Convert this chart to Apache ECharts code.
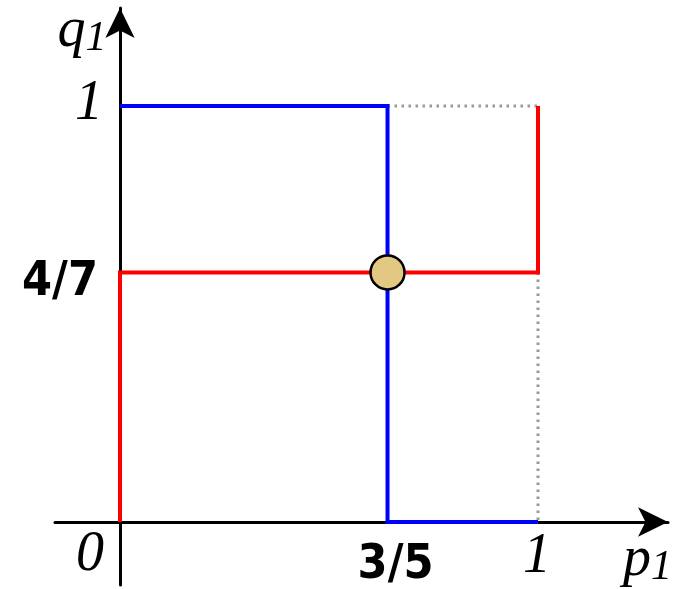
<!DOCTYPE html>
<html>
<head>
<meta charset="utf-8">
<script src="https://cdn.jsdelivr.net/npm/echarts@6/dist/echarts.min.js"></script>
<style>
  html, body { margin: 0; padding: 0; background: #fff; }
  #chart { width: 682px; height: 589px; }
</style>
</head>
<body>
<div id="chart"></div>
<script>
// 数据：按图上位置读取
const pStar = 0.64   // 蓝线竖段位置（标注 3/5）
const qStar = 0.60   // 红线横段位置（标注 4/7）

const redLine = [[0, 0], [0, qStar], [1, qStar], [1, 1]]
const blueLine = [[0, 1], [pStar, 1], [pStar, 0], [1, 0]]
const dotTop = [[pStar, 1], [1, 1]]
const dotRight = [[1, qStar], [1, 0]]
const equilibrium = [[pStar, qStar]]

// 刻度与轴名文字
const tickLabels = [
  { pos: [0, 0], text: '{i|0}', offset: [-30, 33] },
  { pos: [1, 0], text: '{i|1}', offset: [-1, 35] },
  { pos: [0, 1], text: '{i|1}', offset: [-31, -2] },
  { pos: [pStar, 0], text: '{b|3/5}', offset: [8, 44] },
  { pos: [0, qStar], text: '{b|4/7}', offset: [-60, 10] },
  { pos: [1.2, 0], text: '{i|p}{s|1}', offset: [26, 38] },
  { pos: [0, 1.2], text: '{i|q}{s|1}', offset: [-38, 8] }
]

const serif = "'Liberation Serif', 'DejaVu Serif', serif"
const rich = {
  i: { fontFamily: serif, fontStyle: 'italic', fontSize: 56, color: '#000' },
  s: { fontFamily: serif, fontStyle: 'italic', fontSize: 42, color: '#000', padding: [16, 0, 0, 0] },
  b: { fontFamily: "'DejaVu Sans Condensed', 'Liberation Sans Narrow', sans-serif", fontWeight: 'bold', fontSize: 48, color: '#000' }
}

const chart = echarts.init(document.getElementById('chart'))
chart.setOption({
  animation: false,
  backgroundColor: '#fff',
  grid: { left: 55, right: 14, top: 8, bottom: 4 },
  xAxis: {
    type: 'value', min: -0.1555, max: 1.311,
    splitLine: { show: false }, axisTick: { show: false }, axisLabel: { show: false },
    axisLine: { onZero: true, lineStyle: { color: '#000', width: 3 }, symbol: ['none', 'arrow'], symbolSize: [22, 30] }
  },
  yAxis: {
    type: 'value', min: -0.1514, max: 1.2356,
    splitLine: { show: false }, axisTick: { show: false }, axisLabel: { show: false },
    axisLine: { onZero: true, lineStyle: { color: '#000', width: 3 }, symbol: ['none', 'arrow'], symbolSize: [22, 30] }
  },
  series: [
    { type: 'line', data: dotTop, showSymbol: false, lineStyle: { color: '#999', width: 3, type: [2.5, 4.5] }, z: 1 },
    { type: 'line', data: dotRight, showSymbol: false, lineStyle: { color: '#999', width: 3, type: [2.5, 4.5] }, z: 1 },
    { type: 'line', data: blueLine, showSymbol: false, lineStyle: { color: '#0000ff', width: 4, join: 'miter' }, z: 3 },
    { type: 'line', data: redLine, showSymbol: false, lineStyle: { color: '#ff0000', width: 4, join: 'miter' }, z: 4 },
    {
      type: 'scatter', data: equilibrium, symbolSize: 34, z: 5,
      itemStyle: { color: '#e2c883', opacity: 1, borderColor: '#000', borderWidth: 2.5 }
    },
    {
      type: 'scatter', symbolSize: 0, z: 6, silent: true,
      itemStyle: { opacity: 1 },
      data: tickLabels.map(t => ({
        value: t.pos,
        label: { show: true, color: '#000', position: 'inside', offset: t.offset, formatter: t.text, rich: rich }
      }))
    }
  ]
})
</script>
</body>
</html>
